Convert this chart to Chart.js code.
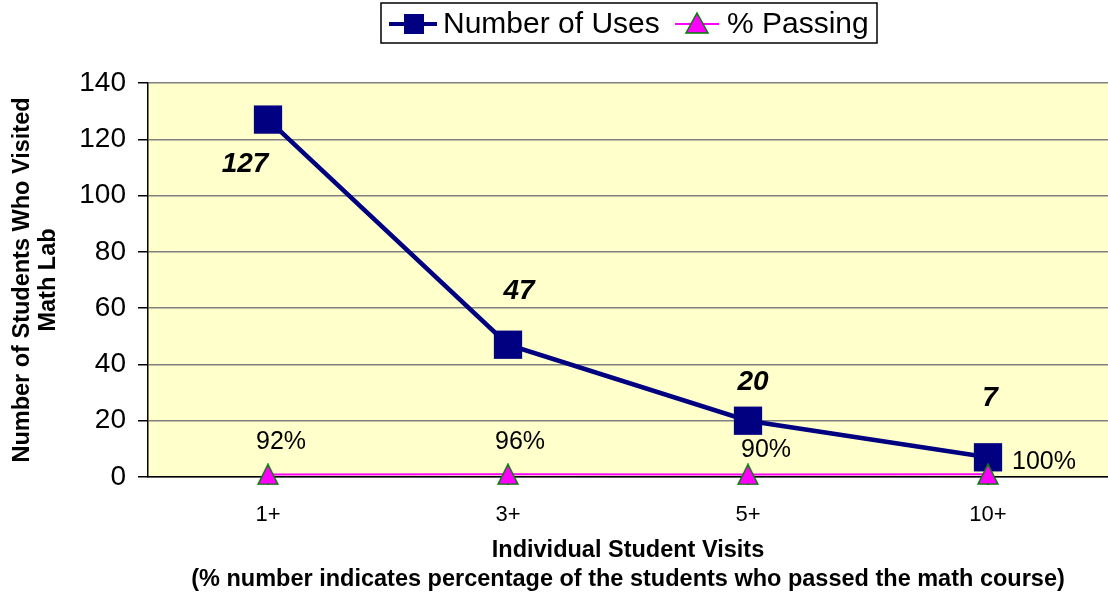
<!DOCTYPE html>
<html>
<head>
<meta charset="utf-8">
<title>Math Lab Visits</title>
<script src="https://cdn.jsdelivr.net/npm/chart.js@4.4.1/dist/chart.umd.min.js"></script>
<style>
    body { margin: 0; background: #fff; }
    #wrap { width: 1108px; height: 598px; }
</style>
</head>
<body>
<div id="wrap"><canvas id="mathLabChart" width="1108" height="598"></canvas></div>
<script>
// chart values
var categories = ['1+', '3+', '5+', '10+'];
var numberOfUses = [127, 47, 20, 7];
var percentPassing = [0.92, 0.96, 0.90, 1.00];

var yAxisTitle = ['Number of Students Who Visited', 'Math Lab'];
var xAxisTitle = ['Individual Student Visits', '(% number indicates percentage of the students who passed the math course)'];

// label offsets from each point (the labels were moved by hand in the original)
var usesLabelOffsets = [[-23, 45], [11, -53], [5, -38], [2, -59]];
var passingLabelOffsets = [[13, -32], [12, -32], [18, -24], [56, -12]];

var FONT = 'Arial, "Liberation Sans", sans-serif';

// Excel-like triangle marker, centred on the point
function triangleMarker(size) {
    var c = document.createElement('canvas');
    c.width = size + 2;
    c.height = size + 2;
    var ctx = c.getContext('2d');
    ctx.fillStyle = '#FF00FF';
    ctx.strokeStyle = '#008000';
    ctx.lineWidth = 1.5;
    ctx.beginPath();
    ctx.moveTo(c.width / 2, 1);
    ctx.lineTo(c.width - 1, c.height - 1);
    ctx.lineTo(1, c.height - 1);
    ctx.closePath();
    ctx.fill();
    ctx.stroke();
    return c;
}

var chartDecor = {
    id: 'chartDecor',
    beforeDraw: function (chart) {
        var ctx = chart.ctx;
        var area = chart.chartArea;
        ctx.save();
        ctx.fillStyle = '#fff';
        ctx.fillRect(0, 0, chart.width, chart.height);
        ctx.fillStyle = '#FFFFCC';
        ctx.fillRect(area.left, area.top, area.right - area.left, area.bottom - area.top);
        ctx.restore();
    },
    afterDatasetsDraw: function (chart) {
        var ctx = chart.ctx;
        ctx.save();
        ctx.textAlign = 'center';
        ctx.textBaseline = 'middle';
        ctx.fillStyle = '#000';

        ctx.font = 'italic bold 28px ' + FONT;
        chart.getDatasetMeta(0).data.forEach(function (pt, i) {
            ctx.fillText(String(numberOfUses[i]), pt.x + usesLabelOffsets[i][0], pt.y + usesLabelOffsets[i][1]);
        });

        ctx.font = '25px ' + FONT;
        chart.getDatasetMeta(1).data.forEach(function (pt, i) {
            ctx.fillText(Math.round(percentPassing[i] * 100) + '%', pt.x + passingLabelOffsets[i][0], pt.y + passingLabelOffsets[i][1]);
        });
        ctx.restore();
    },
    afterDraw: function (chart) {
        // legend in a box, Excel style
        var ctx = chart.ctx;
        var box = { left: 381, top: 3, right: 877, bottom: 43 };
        var cy = (box.top + box.bottom) / 2 + 1;
        ctx.save();
        ctx.strokeStyle = '#000';
        ctx.lineWidth = 1.5;
        ctx.strokeRect(box.left, box.top, box.right - box.left, box.bottom - box.top);

        ctx.font = '30px ' + FONT;
        ctx.textBaseline = 'middle';
        ctx.textAlign = 'left';
        ctx.fillStyle = '#000';

        // Number of Uses
        ctx.strokeStyle = '#000080';
        ctx.lineWidth = 4;
        ctx.beginPath();
        ctx.moveTo(389, cy);
        ctx.lineTo(437, cy);
        ctx.stroke();
        ctx.fillStyle = '#000080';
        ctx.fillRect(404, cy - 10, 20, 20);
        ctx.fillStyle = '#000';
        ctx.fillText('Number of Uses', 443, cy + 1);

        // % Passing
        ctx.strokeStyle = '#FF00FF';
        ctx.lineWidth = 2;
        ctx.beginPath();
        ctx.moveTo(675, cy);
        ctx.lineTo(719, cy);
        ctx.stroke();
        ctx.fillStyle = '#FF00FF';
        ctx.strokeStyle = '#008000';
        ctx.lineWidth = 1.5;
        ctx.beginPath();
        ctx.moveTo(697, cy - 11);
        ctx.lineTo(708, cy + 9);
        ctx.lineTo(686, cy + 9);
        ctx.closePath();
        ctx.fill();
        ctx.stroke();
        ctx.fillStyle = '#000';
        ctx.fillText('% Passing', 727, cy + 1);
        ctx.restore();
    }
};

new Chart(document.getElementById('mathLabChart'), {
    type: 'line',
    data: {
        labels: categories,
        datasets: [{
            label: 'Number of Uses',
            data: numberOfUses,
            borderColor: '#000080',
            backgroundColor: '#000080',
            borderWidth: 4.5,
            pointStyle: 'rect',
            pointRadius: 20,
            pointHoverRadius: 20,
            pointBorderWidth: 0,
            tension: 0,
            clip: false,
            order: 1
        }, {
            label: '% Passing',
            data: percentPassing,
            borderColor: '#FF00FF',
            backgroundColor: '#FF00FF',
            borderWidth: 2,
            pointStyle: triangleMarker(20),
            pointRadius: 11,
            pointHoverRadius: 11,
            tension: 0,
            clip: false,
            order: 0
        }]
    },
    options: {
        responsive: false,
        animation: false,
        events: [],
        layout: {
            autoPadding: false,
            padding: { top: 83, left: 0, right: 0, bottom: 0 }
        },
        scales: {
            x: {
                offset: true,
                afterFit: function (scale) { scale.height = 121; },
                grid: {
                    drawOnChartArea: false,
                    drawTicks: true,
                    tickLength: 8,
                    color: '#000',
                    lineWidth: 1.5
                },
                border: { color: '#000', width: 1.5 },
                ticks: {
                    color: '#000',
                    font: { family: FONT, size: 22 },
                    padding: 17,
                    maxRotation: 0
                },
                title: {
                    display: true,
                    text: xAxisTitle,
                    color: '#000',
                    font: { family: FONT, size: 23.5, weight: 'bold', lineHeight: 1.234 },
                    padding: { top: 0, bottom: 3.5 }
                }
            },
            y: {
                min: 0,
                max: 140,
                afterFit: function (scale) { scale.width = 148; },
                grid: {
                    color: '#808080',
                    lineWidth: 1.5,
                    tickLength: 10,
                    tickColor: '#000'
                },
                border: { color: '#000', width: 1.5 },
                ticks: {
                    stepSize: 20,
                    color: '#000',
                    font: { family: FONT, size: 28 },
                    padding: 12
                },
                title: {
                    display: true,
                    text: yAxisTitle,
                    color: '#000',
                    font: { family: FONT, size: 23.5, weight: 'bold', lineHeight: 1.13 },
                    padding: { top: 9 }
                }
            }
        },
        plugins: {
            legend: { display: false },
            tooltip: { enabled: false }
        }
    },
    plugins: [chartDecor]
});
</script>
</body>
</html>
